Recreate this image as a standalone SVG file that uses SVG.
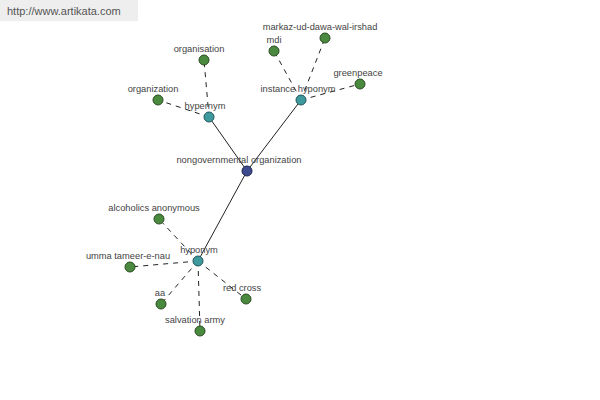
<svg xmlns="http://www.w3.org/2000/svg" width="600" height="400" viewBox="0 0 600 400">
<style>
text{font-family:"Liberation Sans",Arial,sans-serif;font-size:9.3px;fill:#444;text-anchor:middle}
.solid{stroke:#222;stroke-width:1;fill:none}
.dash{stroke:#222;stroke-width:1;fill:none;stroke-dasharray:5,5}
.leaf{fill:#4a8a3e;stroke:#2a4a22;stroke-width:1}
.hub{fill:#3f9a9e;stroke:#24555a;stroke-width:1}
.root{fill:#3d4a8e;stroke:#1f2650;stroke-width:1}
</style>
<rect x="0" y="0" width="138" height="21" fill="#eeeeee"/>
<text x="7" y="15" style="text-anchor:start;font-size:11px;fill:#555">http://www.artikata.com</text>
<g id="connectors">
<line class="solid" x1="247" y1="171" x2="209" y2="117"/>
<line class="solid" x1="247" y1="171" x2="301" y2="100"/>
<line class="solid" x1="247" y1="171" x2="198" y2="261"/>
<line class="dash" x1="209" y1="117" x2="204" y2="60"/>
<line class="dash" x1="209" y1="117" x2="158" y2="100"/>
<line class="dash" x1="301" y1="100" x2="274" y2="51"/>
<line class="dash" x1="301" y1="100" x2="325" y2="38"/>
<line class="dash" x1="301" y1="100" x2="360" y2="84"/>
<line class="dash" x1="198" y1="261" x2="159" y2="219"/>
<line class="dash" x1="198" y1="261" x2="130" y2="267"/>
<line class="dash" x1="198" y1="261" x2="161" y2="304"/>
<line class="dash" x1="198" y1="261" x2="200" y2="331"/>
<line class="dash" x1="198" y1="261" x2="246" y2="299"/>
</g>
<g id="root"><circle class="root" cx="247" cy="171" r="5"/><text x="239" y="163">nongovernmental organization</text></g>
<g id="hypernym"><circle class="hub" cx="209" cy="117" r="5"/><text x="205" y="109">hypernym</text></g>
<g id="instance-hyponym"><circle class="hub" cx="301" cy="100" r="5"/><text x="298" y="92">instance hyponym</text></g>
<g id="hyponym"><circle class="hub" cx="198" cy="261" r="5"/><text x="199" y="253">hyponym</text></g>
<g id="organisation"><circle class="leaf" cx="204" cy="60" r="5"/><text x="199" y="52">organisation</text></g>
<g id="organization"><circle class="leaf" cx="158" cy="100" r="5"/><text x="153" y="92">organization</text></g>
<g id="mdi"><circle class="leaf" cx="274" cy="51" r="5"/><text x="274" y="43">mdi</text></g>
<g id="markaz"><circle class="leaf" cx="325" cy="38" r="5"/><text x="320" y="30">markaz-ud-dawa-wal-irshad</text></g>
<g id="greenpeace"><circle class="leaf" cx="360" cy="84" r="5"/><text x="358" y="76">greenpeace</text></g>
<g id="alcoholics"><circle class="leaf" cx="159" cy="219" r="5"/><text x="154" y="211">alcoholics anonymous</text></g>
<g id="umma"><circle class="leaf" cx="130" cy="267" r="5"/><text x="128" y="259">umma tameer-e-nau</text></g>
<g id="aa"><circle class="leaf" cx="161" cy="304" r="5"/><text x="160" y="296">aa</text></g>
<g id="salvation"><circle class="leaf" cx="200" cy="331" r="5"/><text x="195" y="323">salvation army</text></g>
<g id="redcross"><circle class="leaf" cx="246" cy="299" r="5"/><text x="242" y="291">red cross</text></g>
</svg>
